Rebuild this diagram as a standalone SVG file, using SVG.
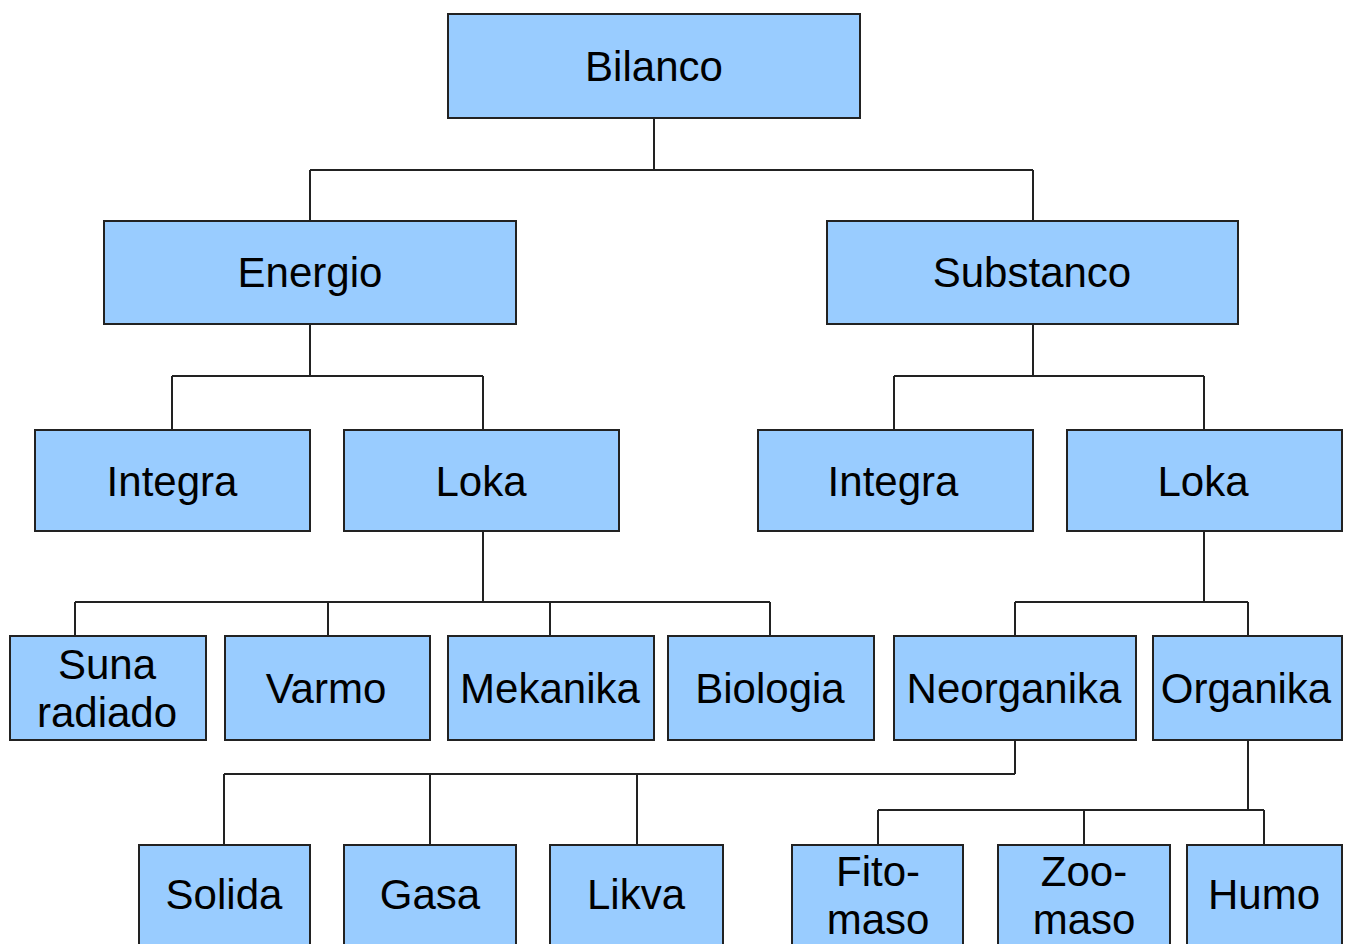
<svg xmlns="http://www.w3.org/2000/svg" width="1345" height="944" viewBox="0 0 1345 944">
  <style>
    .box { fill: #99ccff; stroke: #222; stroke-width: 2; }
    .lbl { font-family: "Liberation Sans", Arial, sans-serif; font-size: 42px; fill: #000; text-anchor: middle; }
    .wire { fill: none; stroke: #222; stroke-width: 2; }
  </style>
  <rect width="1345" height="944" fill="#fff"/>

  <!-- tree connectors -->
  <g id="connectors">
    <path class="wire" d="M654,118 V170 M310,170 H1033 M310,170 V221 M1033,170 V221"/>
    <path class="wire" d="M310,324 V376 M172,376 H483 M172,376 V430 M483,376 V430"/>
    <path class="wire" d="M1033,324 V376 M894,376 H1204 M894,376 V430 M1204,376 V430"/>
    <path class="wire" d="M483,531 V602 M75,602 H770 M75,602 V636 M328,602 V636 M550,602 V636 M770,602 V636"/>
    <path class="wire" d="M1204,531 V602 M1015,602 H1248 M1015,602 V636 M1248,602 V636"/>
    <path class="wire" d="M1015,740 V774 M224,774 H1015 M224,774 V845 M430,774 V845 M637,774 V845"/>
    <path class="wire" d="M1248,740 V810 M878,810 H1264 M878,810 V845 M1084,810 V845 M1264,810 V845"/>
  </g>

  <g id="bilanco"><rect class="box" x="448" y="14" width="412" height="104"/><text class="lbl" x="654" y="81">Bilanco</text></g>

  <g id="energio"><rect class="box" x="104" y="221" width="412" height="103"/><text class="lbl" x="310" y="287">Energio</text></g>
  <g id="substanco"><rect class="box" x="827" y="221" width="411" height="103"/><text class="lbl" x="1032" y="287">Substanco</text></g>

  <g id="energio-integra"><rect class="box" x="35" y="430" width="275" height="101"/><text class="lbl" x="172" y="496">Integra</text></g>
  <g id="energio-loka"><rect class="box" x="344" y="430" width="275" height="101"/><text class="lbl" x="481" y="496">Loka</text></g>
  <g id="substanco-integra"><rect class="box" x="758" y="430" width="275" height="101"/><text class="lbl" x="893" y="496">Integra</text></g>
  <g id="substanco-loka"><rect class="box" x="1067" y="430" width="275" height="101"/><text class="lbl" x="1203" y="496">Loka</text></g>

  <g id="suna-radiado"><rect class="box" x="10" y="636" width="196" height="104"/><text class="lbl" x="107" y="679">Suna</text><text class="lbl" x="107" y="727">radiado</text></g>
  <g id="varmo"><rect class="box" x="225" y="636" width="205" height="104"/><text class="lbl" x="326" y="703">Varmo</text></g>
  <g id="mekanika"><rect class="box" x="448" y="636" width="206" height="104"/><text class="lbl" x="550" y="703">Mekanika</text></g>
  <g id="biologia"><rect class="box" x="668" y="636" width="206" height="104"/><text class="lbl" x="770" y="703">Biologia</text></g>
  <g id="neorganika"><rect class="box" x="894" y="636" width="242" height="104"/><text class="lbl" x="1014" y="703">Neorganika</text></g>
  <g id="organika"><rect class="box" x="1153" y="636" width="189" height="104"/><text class="lbl" x="1246" y="703">Organika</text></g>

  <g id="solida"><rect class="box" x="139" y="845" width="171" height="110"/><text class="lbl" x="224" y="909">Solida</text></g>
  <g id="gasa"><rect class="box" x="344" y="845" width="172" height="110"/><text class="lbl" x="430" y="909">Gasa</text></g>
  <g id="likva"><rect class="box" x="550" y="845" width="173" height="110"/><text class="lbl" x="636" y="909">Likva</text></g>
  <g id="fitomaso"><rect class="box" x="792" y="845" width="171" height="110"/><text class="lbl" x="878" y="886">Fito-</text><text class="lbl" x="878" y="934">maso</text></g>
  <g id="zoomaso"><rect class="box" x="998" y="845" width="172" height="110"/><text class="lbl" x="1084" y="886">Zoo-</text><text class="lbl" x="1084" y="934">maso</text></g>
  <g id="humo"><rect class="box" x="1187" y="845" width="155" height="110"/><text class="lbl" x="1264" y="909">Humo</text></g>
</svg>
